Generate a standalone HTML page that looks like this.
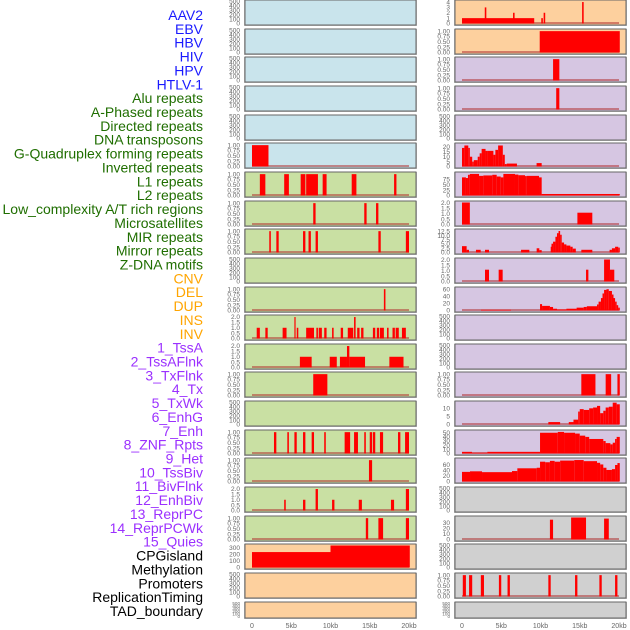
<!DOCTYPE html>
<html><head><meta charset="utf-8"><style>
html,body{margin:0;padding:0;background:#fff;}
svg{display:block;font-family:"Liberation Sans",sans-serif;}
</style></head><body>
<svg id="chart" width="630" height="630" viewBox="0 0 630 630"></svg>
<script>
// ---- data ----
const labels = ["AAV2","EBV","HBV","HIV","HPV","HTLV-1","Alu repeats","A-Phased repeats","Directed repeats","DNA transposons","G-Quadruplex forming repeats","Inverted repeats","L1 repeats","L2 repeats","Low_complexity A/T rich regions","Microsatellites","MIR repeats","Mirror repeats","Z-DNA motifs","CNV","DEL","DUP","INS","INV","1_TssA","2_TssAFlnk","3_TxFlnk","4_Tx","5_TxWk","6_EnhG","7_Enh","8_ZNF_Rpts","9_Het","10_TssBiv","11_BivFlnk","12_EnhBiv","13_ReprPC","14_ReprPCWk","15_Quies","CPGisland","Methylation","Promoters","ReplicationTiming","TAD_boundary"];
const labelGroups = [6,13,5,15,5];
const labelColors = ["#1a1aff","#1f6e00","#ffa500","#9b30ff","#000000"];
const xTicks = [0,5,10,15,20];
const xTickLabels = ["0","5kb","10kb","15kb","20kb"];

const emptyTicks = [0,100,200,300,400,500];
const unitTicks = [0,0.25,0.5,0.75,1];
const twoTicks = [0,0.5,1,1.5,2];

// left column panels: segments [startKb, endKb, value]
const L0=[],L1=[],L2=[],L3=[],L4=[];
const L5=[[0,2.1,1]];
const L6=[[1.0,1.7,1],[4.1,4.7,1],[6.2,6.8,1],[6.9,8.4,1],[9.0,9.5,1],[12.7,13.3,1],[18.1,18.4,1]];
const L7=[[7.8,8.1,1],[14.3,14.6,1],[15.8,16.1,1]];
const L8=[[2.2,2.4,1],[3.1,3.4,1],[6.5,6.8,1],[7.2,7.5,1],[8.1,8.4,1],[16.1,16.4,1],[19.6,20,1]];
const L9=[];
const L10=[[16.8,17.0,1]];
const L11=[[0.6,1.0,1],[1.7,2.0,1],[3.9,4.4,1],[5.4,5.55,2],[5.7,5.9,1],[6.9,7.9,1],[8.2,8.4,1],[8.5,8.9,1],[9.2,9.5,1],[10.2,10.4,1],[11.3,11.6,1],[12.2,12.9,1],[13.0,13.2,2],[13.4,13.7,1],[13.9,14.2,1],[15.4,15.7,1],[15.9,16.2,1],[16.3,16.8,1],[17.2,17.4,1],[17.9,18.2,1],[18.3,18.7,1],[19.1,19.6,1]];
const L12=[[6.1,7.6,1],[9.9,10.8,1],[11.2,12.1,1],[12.1,12.4,2],[12.4,14.4,1],[17.5,19.3,1]];
const L13=[[7.8,9.6,1]];
const L14=[];
const L15=[[2.8,3.1,1],[4.5,4.7,1],[5.4,5.7,1],[6.5,6.8,1],[7.6,7.9,1],[9.2,9.4,1],[11.8,12.5,1],[13.0,13.5,1],[14.3,14.5,1],[15.0,15.3,1],[15.4,15.7,1],[16.3,16.7,1],[18.6,18.9,1],[19.5,20,1]];
const L16=[[14.9,15.3,1]];
const L17=[[4.1,4.3,1],[6.5,6.8,1],[8.1,8.4,2],[10.2,10.5,1],[13.6,14.0,1],[17.7,18.1,1],[19.6,20,2]];
const L18=[[14.5,14.8,1],[16.1,16.7,1],[19.6,20,1]];
const L19=[[0,10,235],[10,20.1,335]];
const L20=[],L21=[];

// right column panels
const R0=[[0,9.2,1],[2.9,3.1,3],[6.5,6.7,2],[10.1,10.3,1],[10.4,10.6,2],[15.3,15.5,4]];
const R1=[[9.9,20.1,1]];
const R2=[[11.6,12.4,1]];
const R3=[[12.0,12.4,1]];
const R4=[];
const R5=[[0,.3,19],[.3,.8,21.5],[.8,1.0,19],[1.0,1.3,10],[1.3,1.5,5],[1.5,2.0,6.5],[2.0,2.25,10],[2.25,2.5,13.5],[2.5,3.0,18],[3.0,3.3,16],[3.3,4.0,16],[4.0,4.25,12],[4.25,4.6,17],[4.6,5.2,21.5],[5.2,5.45,12],[5.45,5.7,2.5],[5.7,7.0,3],[9.5,10.15,3.5]];
const R6=[[0,.5,84],[.5,.76,81],[.76,1.0,96],[1.0,2.17,100],[2.17,2.72,91],[2.72,3.86,93],[3.86,4.42,96],[4.42,4.93,88],[4.93,5.27,84],[5.27,6.75,100],[6.75,7.18,97],[7.18,8.03,94],[8.03,8.24,90],[8.24,9.81,91],[9.81,10.15,84],[10.15,20.1,7]];
const R7=[[0,1.0,2.05],[14.7,16.6,1.1]];
const R8=[[0,.59,3.75],[.59,.89,1.6],[1.78,2.38,1.6],[2.93,3.44,1.6],[7.52,8.58,1.6],[9.51,9.85,2.5],[9.85,10.15,1.4],[11.3,11.4,3.4],[11.4,11.6,5.2],[11.6,11.9,6.4],[11.9,12.1,9.3],[12.1,12.3,11.4],[12.3,12.5,12.7],[12.5,12.7,10.5],[12.7,13.0,5.9],[13.0,13.3,4.8],[13.3,13.8,4.1],[13.8,14.1,3.4],[14.1,14.5,2.3],[15.2,16.6,1.6],[18.8,19.1,1.6],[19.1,19.5,2.5],[19.5,19.9,3.4],[19.9,20.1,2.9]];
const R9=[[2.93,3.44,1.1],[4.67,5.18,1.1],[15.8,16.1,1.1],[18.1,18.85,2.05],[18.85,19.4,1.1]];
const R10=[[2.42,6.24,2],[9.94,10.2,18],[10.2,11.2,13],[11.2,11.6,10],[11.6,12.1,5],[12.1,13.3,3],[13.3,14.6,5],[14.6,15.5,8],[15.5,15.9,10],[15.9,17.2,12],[17.2,17.4,17],[17.4,17.7,25],[17.7,17.9,35],[17.9,18.1,48],[18.1,18.4,58],[18.4,18.7,60],[18.7,19.1,55],[19.1,19.3,45],[19.3,19.5,35],[19.5,19.7,25],[19.7,19.9,15],[19.9,20.1,8]];
const R11=[],R12=[];
const R13=[[15.2,17.0,1],[18.3,19.0,1],[19.8,20.1,1]];
const R14=[[11.0,12.5,1.5],[13.6,14.2,1.5],[14.2,14.8,3],[14.8,15.0,8],[15.0,15.5,9.5],[15.5,16.2,9],[16.2,16.7,10],[16.7,17.2,10.5],[17.2,17.6,11.5],[17.6,18.0,7],[18.0,18.3,8.5],[18.3,18.7,10.5],[18.7,19.2,11],[19.2,19.7,13.5],[19.7,20.1,12.5]];
const R15=[[0,1.27,4],[1.27,3.23,2],[3.23,9.94,4],[9.94,12.2,50],[12.2,13.0,52],[13.0,14.4,50],[14.4,15.0,48],[15.0,15.7,43],[15.7,16.2,40],[16.2,18.0,35],[18.0,18.3,30],[18.3,18.9,25],[18.9,19.2,22],[19.2,19.5,26],[19.5,19.7,35],[19.7,20.1,40]];
const R16=[[0,1.02,35],[1.02,2.55,37],[2.55,6.37,34],[6.37,7.05,38],[7.05,9.51,48],[9.51,9.94,50],[9.94,10.6,72],[10.6,11.2,70],[11.2,11.8,75],[11.8,12.5,72],[12.5,14.3,76],[14.3,15.5,78],[15.5,17.2,74],[17.2,17.6,68],[17.6,18.0,62],[18.0,18.4,50],[18.4,19.1,42],[19.1,19.5,45],[19.5,19.8,60],[19.8,20.1,67]];
const R17=[];
const R18=[[11.2,11.6,36],[13.9,15.8,40],[18.1,18.7,38]];
const R19=[];
const R20=[[0.1,0.5,1],[0.9,1.3,1],[2.4,2.8,1],[4.7,5.0,1],[5.8,6.1,1],[11.0,11.3,1],[14.4,14.7,1],[17.5,17.8,1],[19.5,19.8,1]];
const R21=[];

const leftData=[L0,L1,L2,L3,L4,L5,L6,L7,L8,L9,L10,L11,L12,L13,L14,L15,L16,L17,L18,L19,L20,L21];
const rightData=[R0,R1,R2,R3,R4,R5,R6,R7,R8,R9,R10,R11,R12,R13,R14,R15,R16,R17,R18,R19,R20,R21];
const leftMax=[500,500,500,500,500,1.03,1.03,1.03,1.03,500,1.03,2.05,2.05,1.03,500,1.03,1.03,2.05,1.03,335,500,500];
const rightMax=[4.1,1.03,1.03,1.03,500,22.5,102,2.05,13,2.05,62,500,500,1.03,13.6,53,80,500,40,500,1.03,500];
const leftTicks=[emptyTicks,emptyTicks,emptyTicks,emptyTicks,emptyTicks,unitTicks,unitTicks,unitTicks,unitTicks,emptyTicks,unitTicks,twoTicks,twoTicks,unitTicks,emptyTicks,unitTicks,unitTicks,twoTicks,unitTicks,[0,100,200,300],emptyTicks,emptyTicks];
const rightTicks=[[0,1,2,3,4],unitTicks,unitTicks,unitTicks,emptyTicks,[0,5,10,15,20],[0,25,50,75],twoTicks,[0,2.5,5,7.5,10,12.5],twoTicks,[0,20,40,60],emptyTicks,emptyTicks,unitTicks,[0,5,10],[0,10,20,30,40,50],[0,20,40,60],emptyTicks,[0,10,20,30],emptyTicks,unitTicks,emptyTicks];
const leftBg=["#c9e4ec","#c9e4ec","#c9e4ec","#c9e4ec","#c9e4ec","#c9e4ec","#c9e0a3","#c9e0a3","#c9e0a3","#c9e0a3","#c9e0a3","#c9e0a3","#c9e0a3","#c9e0a3","#c9e0a3","#c9e0a3","#c9e0a3","#c9e0a3","#c9e0a3","#fdd09e","#fdd09e","#fdd09e"];
const rightBg=["#fdd09e","#fdd09e","#d6c6e2","#d6c6e2","#d6c6e2","#d6c6e2","#d6c6e2","#d6c6e2","#d6c6e2","#d6c6e2","#d6c6e2","#d6c6e2","#d6c6e2","#d6c6e2","#d6c6e2","#d6c6e2","#d6c6e2","#d0d0d0","#d0d0d0","#d0d0d0","#d0d0d0","#d0d0d0"];

// ---- drawing ----
const NS="http://www.w3.org/2000/svg";
const svg=document.getElementById('chart');
function mk(tag,attrs,parent){const e=document.createElementNS(NS,tag);for(const k in attrs)e.setAttribute(k,attrs[k]);(parent||svg).appendChild(e);return e;}

// labels
let li=0;
labelGroups.forEach((n,g)=>{for(let j=0;j<n;j++){const t=mk('text',{x:203,y:20+li*13.86,'text-anchor':'end','font-size':14,fill:labelColors[g]});t.textContent=labels[li];


li++;}});

function fmt(v,ticks){const dec=ticks.some(t=>t%1!==0)?(ticks.some(t=>(t*10)%1!==0)?2:1):0;if(ticks===emptyTicks)return String(v);return v.toFixed(dec);}

function drawCol(x0,data,maxes,ticks,bgs,side){
  const pl=x0, pw=171, dx0=x0+7, dx1=x0+164;
  const xs=kb=>dx0+(dx1-dx0)*kb/20;
  for(let i=0;i<22;i++){
    const top=Math.round(i*28.65), h=(i===21)?16:25;
    const g=mk('g',{});
    
    
    mk('rect',{x:pl-1,y:top,width:pw+2,height:h+1,fill:'#bbb'},g);
    mk('rect',{x:pl,y:top,width:pw,height:h,fill:bgs[i],stroke:'#666','stroke-width':1},g);
    const yb=top+h-1.5, yt=top+1.5, mx=maxes[i];
    const ys=v=>yb-(yb-yt)*Math.min(v,mx)/mx;
    const segs=data[i];
    if(segs.length){
      const base=mk('line',{x1:xs(0),x2:xs(20),y1:yb-0.5,y2:yb-0.5,stroke:'#b03030','stroke-width':1.5,opacity:0.7},g);
      
      
    }
    segs.forEach(s=>{const r=mk('rect',{x:xs(s[0]),y:ys(s[2]),width:Math.max(1.2,xs(s[1])-xs(s[0])),height:yb-ys(s[2]),fill:'#ff0000'},g);
      
      });
    const tk=ticks[i];
    const sc=(i===21)?0.7:1;
    tk.forEach(v=>{const t=mk('text',{x:x0-5,y:ys(v)+2.2*sc,'text-anchor':'end','font-size':6.5*sc,fill:'#666'},g);t.textContent=fmt(v,tk);
      
      });
  }
  xTicks.forEach((v,k)=>{const t=mk('text',{x:xs(v),y:628,'text-anchor':'middle','font-size':7,fill:'#666'});t.textContent=xTickLabels[k];
    
    });
}
drawCol(245,leftData,leftMax,leftTicks,leftBg,'left');
drawCol(455,rightData,rightMax,rightTicks,rightBg,'right');
</script>
</body></html>
